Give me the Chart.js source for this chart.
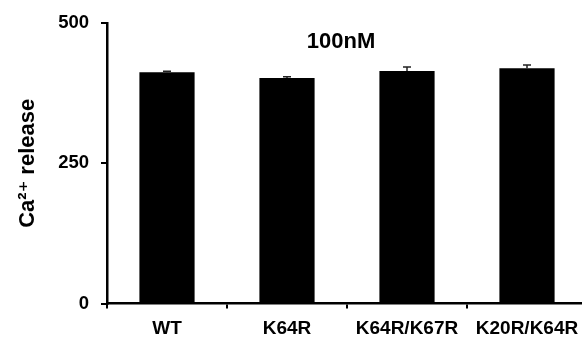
<!DOCTYPE html>
<html>
<head>
<meta charset="utf-8">
<script src="https://cdn.jsdelivr.net/npm/chart.js@4.4.1/dist/chart.umd.min.js"></script>
<style>
  html, body { margin: 0; padding: 0; background: #fff; overflow: hidden; }
  #wrap { width: 590px; height: 337px; }
</style>
</head>
<body>
<div id="wrap"><canvas id="chartCa"></canvas></div>
<script>
// Données (100nM)
const categories = ['WT', 'K64R', 'K64R/K67R', 'K20R/K64R'];
const means = [412.5, 402, 414.5, 419.5];
const errors = [1.8, 2.3, 7, 6];
const yTicks = [0, 250, 500];

const FONT = "'Liberation Sans', Arial, 'DejaVu Sans', sans-serif";

// Barres d'erreur (vers le haut seulement)
const errorBars = {
  id: 'errorBars',
  afterDatasetsDraw(chart) {
    const ctx = chart.ctx;
    const y = chart.scales.y;
    const meta = chart.getDatasetMeta(0);
    ctx.save();
    ctx.strokeStyle = '#222';
    ctx.lineWidth = 1.5;
    meta.data.forEach((bar, i) => {
      const yTop = y.getPixelForValue(means[i] + errors[i]);
      const yBase = y.getPixelForValue(means[i]);
      ctx.beginPath();
      ctx.moveTo(bar.x, yBase);
      ctx.lineTo(bar.x, yTop);
      ctx.moveTo(bar.x - 4, yTop);
      ctx.lineTo(bar.x + 4, yTop);
      ctx.stroke();
    });
    ctx.restore();
  }
};

// Titre "100nM" dans la zone du graphique
const innerTitle = {
  id: 'innerTitle',
  afterDraw(chart) {
    const { ctx, chartArea } = chart;
    ctx.save();
    ctx.font = 'bold 22px ' + FONT;
    ctx.fillStyle = '#000';
    ctx.textAlign = 'center';
    ctx.textBaseline = 'alphabetic';
    ctx.fillText('100nM', (chartArea.left + chartArea.right) / 2 - 6, chartArea.top + 24.5);
    ctx.restore();
  }
};

new Chart(document.getElementById('chartCa'), {
  type: 'bar',
  data: {
    labels: categories,
    datasets: [{
      data: means,
      backgroundColor: '#000',
      borderWidth: 0,
      barPercentage: 0.46,
      categoryPercentage: 1,
    }],
  },
  options: {
    responsive: true,
    maintainAspectRatio: false,
    animation: false,
    layout: { padding: { top: 19.5, left: 0, right: 3, bottom: 0 } },
    plugins: {
      legend: { display: false },
      tooltip: { enabled: false },
    },
    scales: {
      x: {
        afterFit: (s) => { s.height = 33.5; },
        grid: { drawOnChartArea: false, color: '#000', lineWidth: 2, tickLength: 5 },
        border: { color: '#000', width: 2.5 },
        ticks: {
          color: '#000',
          font: { family: FONT, size: 19, weight: 'bold' },
          padding: 8.5,
          maxRotation: 0,
          autoSkip: false,
        },
      },
      y: {
        min: 0,
        max: 500,
        afterFit: (s) => { s.width = 107; },
        afterBuildTicks: (s) => { s.ticks = yTicks.map(v => ({ value: v })); },
        grid: { drawOnChartArea: false, color: '#000', lineWidth: 2, tickLength: 6 },
        border: { color: '#000', width: 2.5 },
        ticks: {
          color: '#000',
          font: { family: FONT, size: 18.5, weight: 'bold' },
          padding: 12,
        },
        title: {
          display: true,
          text: 'Ca²⁺ release',
          color: '#000',
          font: { family: FONT, size: 22, weight: 'bold' },
          padding: { top: 15, bottom: 0 },
        },
      },
    },
  },
  plugins: [errorBars, innerTitle],
});
</script>
</body>
</html>
